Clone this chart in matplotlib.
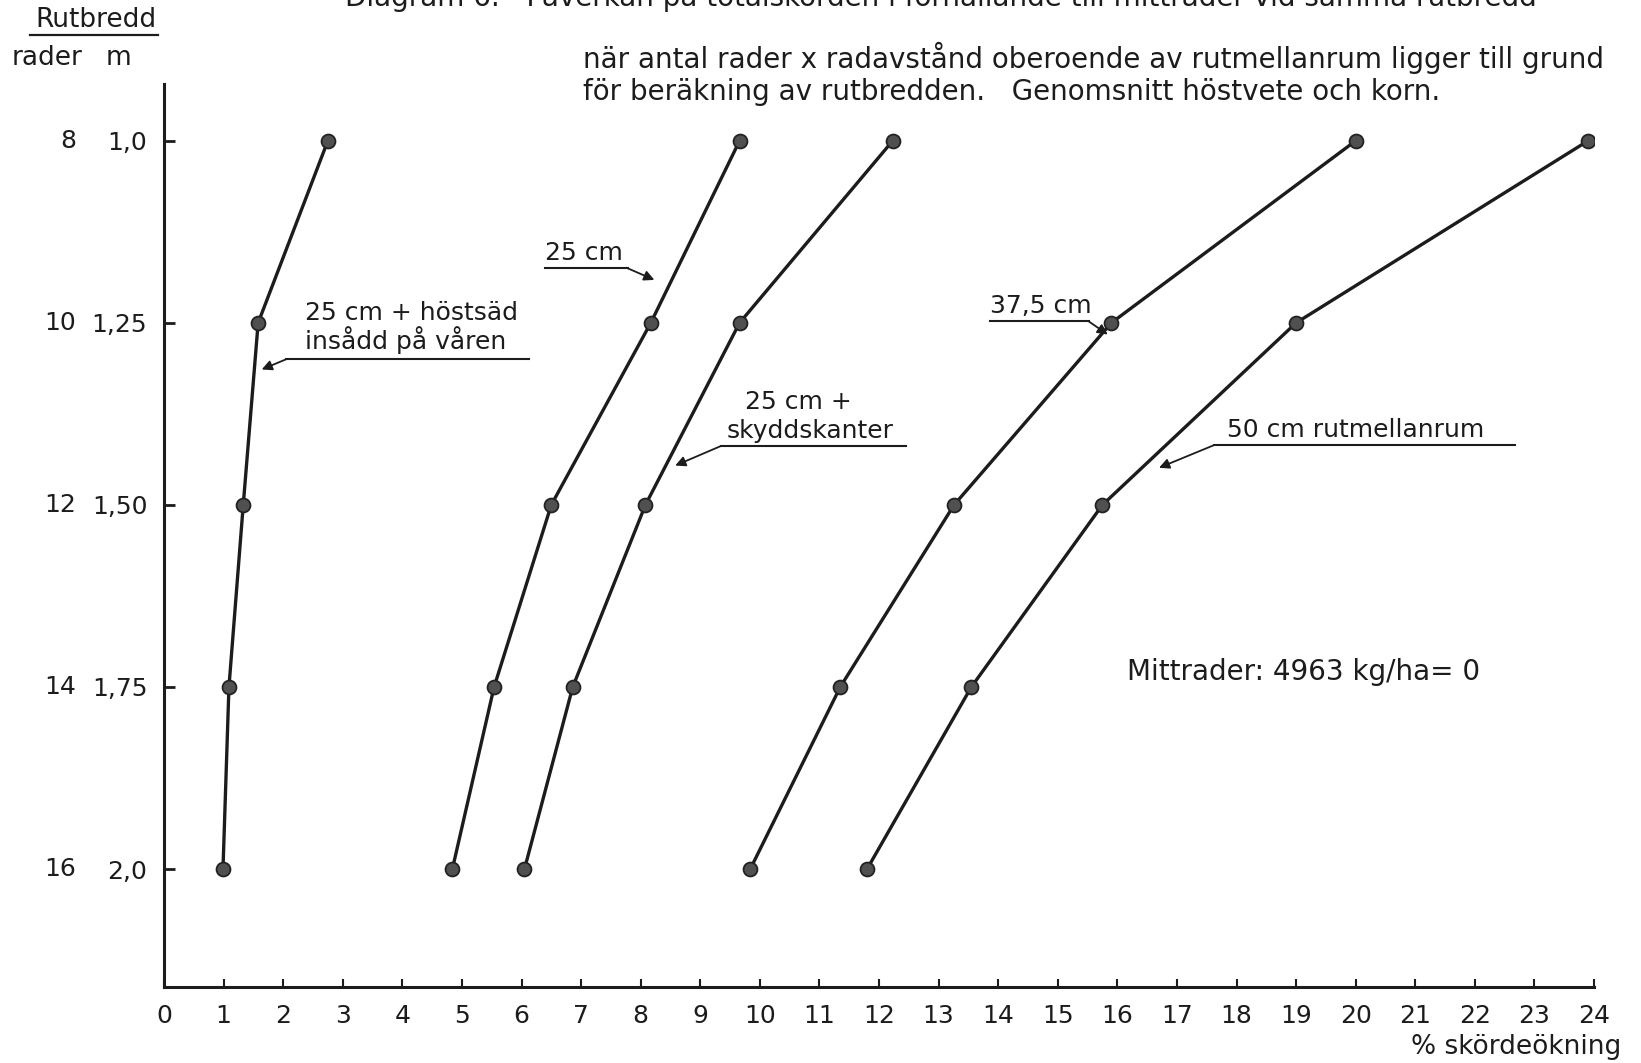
"""Diagram 6: skördeökning vs rutbredd, återskapad med matplotlib."""

import matplotlib
matplotlib.use("Agg")
import matplotlib.pyplot as plt
import matplotlib.transforms as mtransforms

# ---------------------------------------------------------------------------
# Data
# ---------------------------------------------------------------------------
rader = [8, 10, 12, 14, 16]
bredd_m = [1.0, 1.25, 1.50, 1.75, 2.0]
bredd_labels = ["1,0", "1,25", "1,50", "1,75", "2,0"]

hostsad = [2.75, 1.58, 1.33, 1.09, 0.99]          # 25 cm + höstsäd insådd på våren
cm25 = [9.66, 8.17, 6.50, 5.54, 4.84]             # 25 cm
skyddskanter = [12.23, 9.66, 8.08, 6.86, 6.05]    # 25 cm + skyddskanter
cm375 = [20.0, 15.9, 13.26, 11.35, 9.84]          # 37,5 cm
cm50 = [23.9, 19.0, 15.75, 13.55, 11.8]           # 50 cm rutmellanrum

series = [hostsad, cm25, skyddskanter, cm375, cm50]

title_lines = [
    "Diagram 6.   Påverkan på totalskörden i förhållande till mittrader vid samma rutbredd",
    "när antal rader x radavstånd oberoende av rutmellanrum ligger till grund",
    "för beräkning av rutbredden.   Genomsnitt höstvete och korn.",
]

# callout: [(text, x, y), ...], underline x0, x1, y, arrow tip (data units)
callouts = [
    ([("25 cm + höstsäd", 2.37, 1.236), ("insådd på våren", 2.37, 1.273)],
     2.05, 6.12, 1.300, (1.64, 1.314)),
    ([("25 cm", 6.40, 1.154)], 6.40, 7.78, 1.175, (8.23, 1.191)),
    ([("25 cm +", 9.75, 1.358), ("skyddskanter", 9.45, 1.398)],
     9.35, 12.45, 1.419, (8.58, 1.446)),
    ([("37,5 cm", 13.86, 1.227)], 13.86, 15.52, 1.248, (15.84, 1.266)),
    ([("50 cm rutmellanrum", 17.84, 1.397)], 17.62, 22.68, 1.418, (16.70, 1.449)),
]

INK = "#1c1c1c"
W, H = 1641, 1063

plt.rcParams["font.family"] = ["DejaVu Sans"]

fig = plt.figure(figsize=(W / 100, H / 100), dpi=100)
ax = fig.add_axes([164 / W, 1 - 987 / H, (1594 - 164) / W, (987 - 84) / H])

for vals in series:
    ax.plot(vals, bredd_m, color=INK, lw=2.4, zorder=2)
    ax.plot(vals, bredd_m, "o", ms=10, mfc="#505050", mec="#222222", mew=1.3, zorder=3)

ax.set_xlim(0, 24)
ax.set_ylim(2.162, 0.922)

for side in ("top", "right"):
    ax.spines[side].set_visible(False)
for side in ("left", "bottom"):
    ax.spines[side].set_color(INK)
    ax.spines[side].set_linewidth(2.2)

ax.set_xticks(range(0, 25))
ax.set_xticklabels([str(i) for i in range(0, 25)], fontsize=18, color=INK)
ax.set_yticks(bredd_m)
ax.set_yticklabels(bredd_labels, fontsize=18, color=INK)
ax.tick_params(axis="x", direction="in", length=6, width=1.5, colors=INK, pad=12)
ax.tick_params(axis="y", direction="in", length=8, width=2, colors=INK, pad=12)

# row counts as a second label column
trans = mtransforms.blended_transform_factory(fig.transFigure, ax.transData)
for r, m in zip(rader, bredd_m):
    ax.text(76 / W, m, str(r), transform=trans, ha="right", va="center",
            fontsize=18, color=INK)

# column headers
fig.text(96 / W, 1 - 20 / H, "Rutbredd", ha="center", va="center",
         fontsize=19, color=INK)
fig.add_artist(plt.Line2D([30 / W, 158 / W], [1 - 35 / H] * 2, color=INK, lw=1.6))
fig.text(12 / W, 1 - 58 / H, "rader", ha="left", va="center", fontsize=19, color=INK)
fig.text(106 / W, 1 - 58 / H, "m", ha="left", va="center", fontsize=19, color=INK)

# title block (first line cut by the scan edge, as in the original)
fig.text(345 / W, 1 - 6 / H, title_lines[0], ha="left", va="baseline",
         fontsize=20, color=INK)
fig.text(583 / W, 1 - 58 / H, title_lines[1], ha="left", va="center",
         fontsize=20, color=INK)
fig.text(583 / W, 1 - 92 / H, title_lines[2], ha="left", va="center",
         fontsize=20, color=INK)

# callouts: text, underline and arrow from the nearer underline end to the curve
for lines, ux0, ux1, uy, tip in callouts:
    for txt, tx, ty in lines:
        ax.text(tx, ty, txt, ha="left", va="center", fontsize=18, color=INK)
    ax.plot([ux0, ux1], [uy, uy], color=INK, lw=1.5)
    start = ux1 if tip[0] > ux1 else ux0
    ax.annotate("", xy=tip, xytext=(start, uy),
                arrowprops=dict(arrowstyle="-|>", color=INK, lw=1.3,
                                mutation_scale=15, shrinkA=0, shrinkB=0))

ax.text(16.16, 1.729, "Mittrader: 4963 kg/ha= 0", ha="left", va="center",
        fontsize=20, color=INK)

fig.text(1621 / W, 1 - 1047 / H, "% skördeökning", ha="right", va="center",
         fontsize=19, color=INK)

fig.savefig("out.png", dpi=100)
plt.close(fig)
